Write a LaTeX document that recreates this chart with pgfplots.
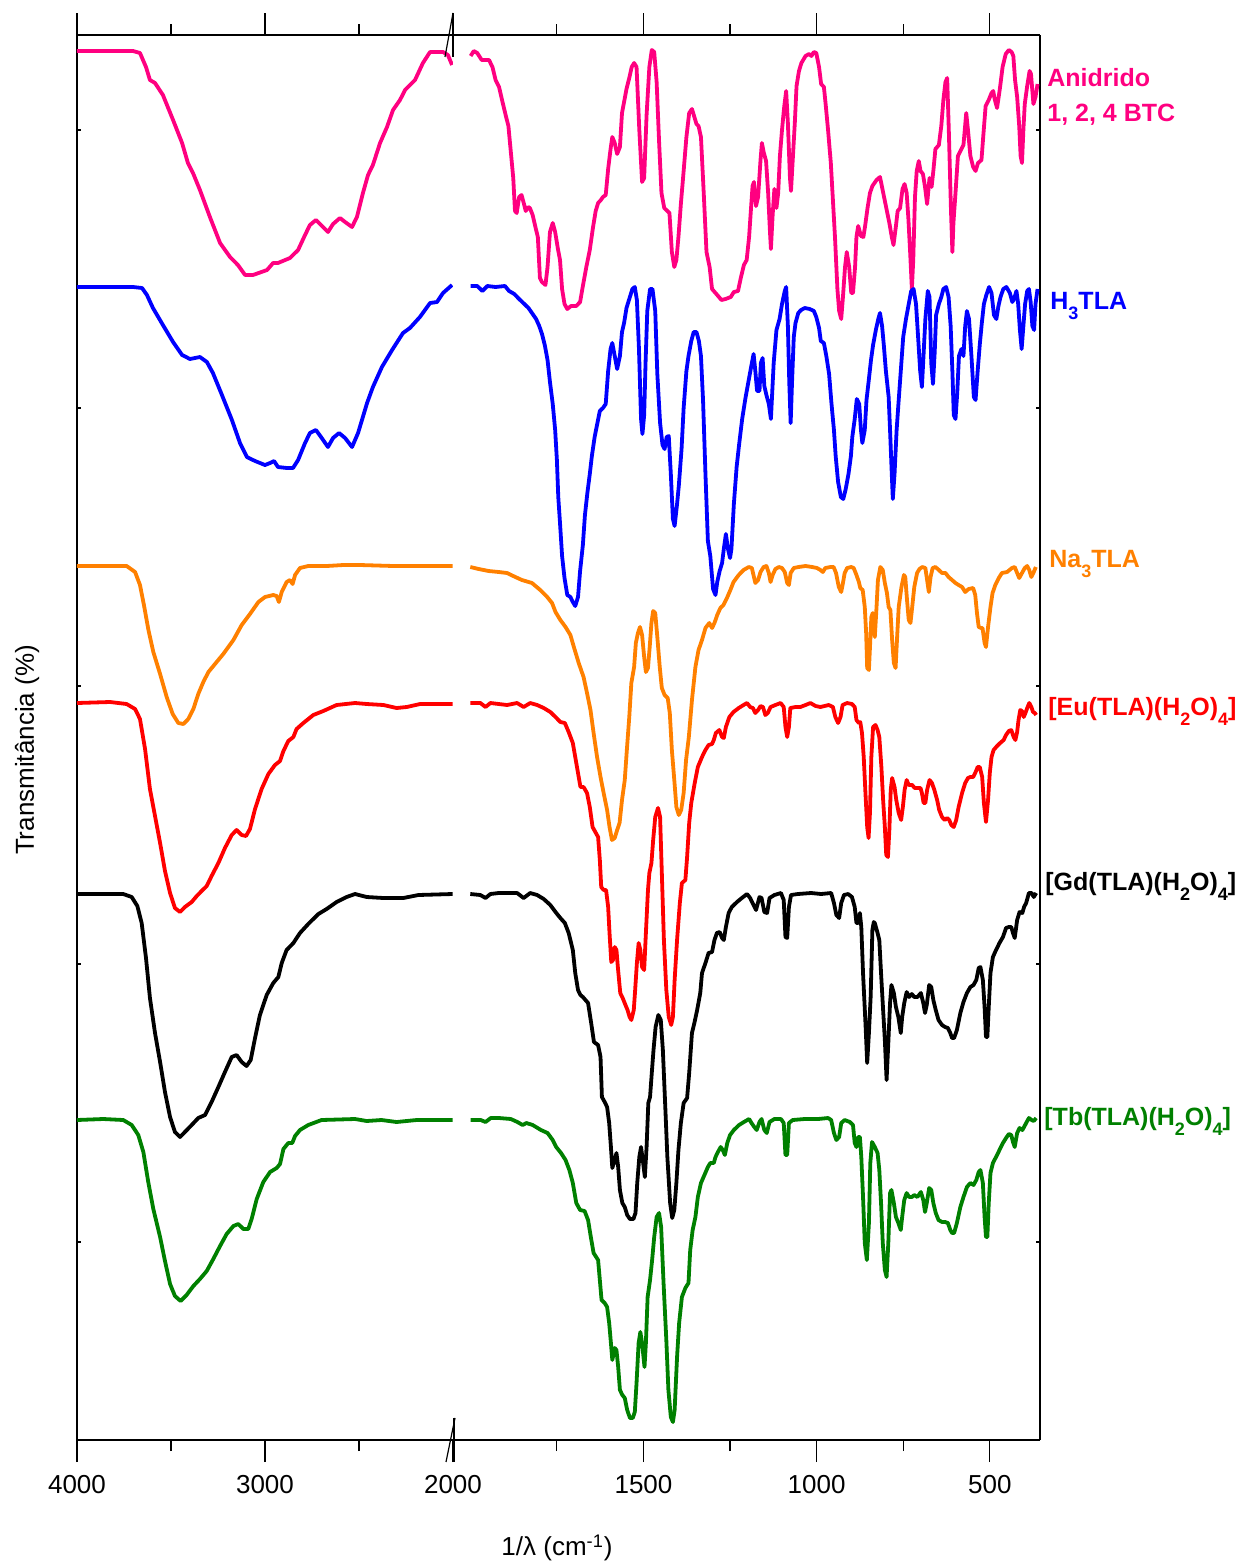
\documentclass[border=0pt]{standalone}
\usepackage{fontspec}
\setmainfont{Liberation Sans}
\usepackage{pgfplots}
\pgfplotsset{compat=1.18}
\definecolor{cpink}{HTML}{FF0080}
\definecolor{cblue}{HTML}{0000FF}
\definecolor{corange}{HTML}{FF8000}
\definecolor{cred}{HTML}{FF0000}
\definecolor{cgreen}{HTML}{008000}
\newcommand{\sbs}[1]{\raisebox{-0.4em}{\fontsize{9}{9}\selectfont #1}}
\pgfplotsset{
  spec/.style={
    scale only axis, anchor=south west, height=702.5pt,
    ymin=35, ymax=1440, y dir=reverse, x dir=reverse,
    separate axis lines, axis x line*=box,
    axis line style={line width=1pt},
    tick align=outside, major tick length=11pt, minor tick length=5.5pt,
    every tick/.style={black, line width=0.6pt},
    xtick pos=both, xticklabel pos=lower,
    ytick=\empty,
    extra y ticks={130,408,686,964,1242}, extra y tick labels={},
    extra y tick style={tick align=inside, major tick length=2pt},
    /pgf/number format/assume math mode=true,
    /pgf/number format/set thousands separator={},
    xticklabel style={font=\fontsize{13}{15}\selectfont, yshift=-3pt},
  },
  sl/.style={line width=1.9pt, line join=round, no markers},
}
\begin{document}
\begin{tikzpicture}
\path[use as bounding box] (0,0) rectangle (619.5pt,782pt);
% ---------------- left segment 4000-2000
\begin{axis}[spec, at={(38.5pt,62pt)}, width=188pt, xmin=2000, xmax=4000,
  xtick={2000,3000,4000}, minor xtick={2500,3500}, axis y line*=left]
\addplot[sl, cpink] coordinates {(4000,51) (3850,51) (3702,51) (3665,53) (3633,67) (3612,80) (3585,83) (3543,95) (3489,120) (3441,143) (3410,163) (3383,173) (3346,190) (3293,217) (3239,243) (3186,257) (3144,265) (3106,275) (3064,275) (2989,270) (2957,263) (2931,263) (2867,258) (2824,250) (2787,235) (2761,225) (2729,220) (2702,225) (2665,232) (2638,224) (2601,218) (2574,222) (2537,227) (2511,217) (2479,193) (2452,175) (2426,165) (2388,143) (2351,127) (2319,110) (2282,100) (2255,90) (2202,80) (2160,63) (2122,52) (2053,52) (2027,55) (2005,65)};
\addplot[sl, cblue] coordinates {(4000,287) (3850,287) (3702,287) (3654,288) (3628,295) (3596,308) (3543,325) (3489,342) (3441,355) (3399,359) (3346,357) (3309,362) (3277,373) (3229,395) (3176,420) (3133,443) (3096,457) (3053,461) (3000,465) (2973,463) (2952,461) (2931,467) (2883,468) (2851,468) (2824,460) (2787,443) (2761,433) (2729,430) (2702,437) (2665,447) (2638,438) (2606,433) (2574,438) (2537,447) (2505,433) (2457,403) (2426,387) (2378,367) (2324,350) (2266,333) (2229,328) (2176,317) (2122,303) (2085,302) (2053,293) (2005,285)};
\addplot[sl, corange] coordinates {(4000,566) (3850,566) (3736,566) (3691,572) (3665,585) (3644,605) (3620,630) (3594,652) (3558,674) (3523,697) (3491,714) (3461,723) (3434,724) (3408,719) (3381,709) (3355,694) (3328,682) (3301,672) (3266,664) (3222,654) (3168,640) (3124,625) (3080,614) (3035,602) (3000,597) (2956,595) (2938,596) (2926,602) (2911,592) (2885,582) (2867,580) (2853,584) (2840,575) (2814,568) (2770,566) (2672,566) (2583,565) (2495,565) (2317,566) (2140,566) (2002,566)};
\addplot[sl, cred] coordinates {(4000,703) (3824,702) (3736,704) (3691,709) (3665,719) (3638,749) (3612,789) (3585,816) (3558,843) (3532,871) (3505,893) (3479,908) (3452,912) (3426,907) (3390,902) (3363,896) (3337,891) (3310,886) (3284,876) (3248,863) (3213,848) (3177,835) (3151,830) (3124,835) (3101,836) (3080,829) (3053,809) (3018,789) (2982,774) (2947,765) (2920,761) (2902,751) (2876,741) (2849,737) (2832,729) (2796,723) (2743,715) (2690,711) (2619,705) (2521,703) (2459,704) (2370,705) (2300,708) (2246,707) (2175,704) (2002,704)};
\addplot[sl, black] coordinates {(4000,894) (3754,894) (3709,897) (3679,906) (3656,923) (3633,958) (3612,998) (3585,1033) (3558,1062) (3532,1092) (3505,1117) (3479,1132) (3452,1137) (3426,1132) (3390,1125) (3355,1118) (3319,1115) (3284,1102) (3248,1087) (3213,1072) (3177,1057) (3151,1055) (3124,1062) (3098,1066) (3076,1060) (3053,1038) (3027,1015) (2991,995) (2956,983) (2929,977) (2911,963) (2885,950) (2849,943) (2814,933) (2770,924) (2716,914) (2672,909) (2619,902) (2566,897) (2521,894) (2459,897) (2370,898) (2264,898) (2184,895) (2002,894)};
\addplot[sl, cgreen] coordinates {(4000,1120) (3860,1119) (3754,1120) (3709,1125) (3674,1135) (3647,1152) (3621,1182) (3594,1209) (3558,1237) (3532,1261) (3505,1284) (3479,1296) (3449,1301) (3417,1295) (3381,1286) (3346,1279) (3310,1271) (3275,1259) (3239,1246) (3204,1234) (3168,1226) (3142,1224) (3115,1229) (3089,1229) (3071,1219) (3044,1199) (3009,1182) (2973,1172) (2938,1168) (2920,1164) (2902,1149) (2876,1143) (2855,1143) (2840,1136) (2814,1130) (2770,1125) (2699,1120) (2521,1119) (2459,1121) (2380,1120) (2300,1122) (2193,1120) (2002,1120)};
\end{axis}
% ---------------- right segment 2050-355
\begin{axis}[spec, at={(226.5pt,62pt)}, width=293.5pt, xmin=355, xmax=2050,
  xtick={500,1000,1500}, minor xtick={750,1250,1750}, axis y line*=right]
\addplot[sl, cpink] coordinates {(1999,56) (1990,51) (1980,53) (1967,60) (1956,60) (1946,60) (1936,67) (1927,80) (1917,87) (1907,102) (1898,115) (1890,126) (1883,152) (1876,178) (1871,211) (1866,213) (1859,197) (1852,195) (1845,204) (1840,211) (1833,207) (1828,208) (1820,215) (1810,230) (1805,237) (1799,278) (1793,282) (1783,285) (1777,267) (1770,232) (1762,223) (1755,232) (1747,249) (1741,260) (1735,289) (1728,304) (1720,309) (1709,306) (1694,306) (1683,302) (1675,286) (1665,267) (1655,250) (1646,228) (1638,211) (1631,203) (1623,200) (1617,197) (1609,195) (1602,169) (1595,149) (1590,137) (1583,143) (1576,154) (1568,147) (1562,113) (1556,102) (1549,89) (1541,78) (1534,67) (1527,63) (1520,67) (1512,130) (1504,182) (1498,178) (1491,115) (1483,67) (1476,50) (1469,52) (1462,82) (1455,141) (1448,193) (1440,208) (1431,211) (1425,213) (1418,252) (1411,267) (1405,260) (1399,237) (1392,204) (1384,171) (1376,137) (1368,113) (1360,109) (1353,117) (1347,124) (1341,126) (1334,137) (1326,193) (1318,252) (1309,267) (1302,289) (1292,293) (1282,297) (1275,300) (1263,299) (1248,297) (1239,292) (1227,291) (1219,278) (1210,265) (1202,260) (1195,237) (1190,211) (1185,186) (1181,182) (1175,206) (1169,197) (1162,160) (1158,143) (1153,152) (1146,161) (1140,193) (1135,230) (1132,249) (1127,215) (1122,189) (1116,208) (1111,193) (1106,156) (1100,130) (1094,108) (1088,91) (1083,123) (1077,178) (1074,191) (1069,160) (1063,123) (1058,86) (1051,71) (1044,63) (1032,56) (1022,54) (1015,56) (1008,52) (1001,53) (993,67) (987,84) (979,87) (974,104) (967,130) (959,163) (953,200) (947,237) (940,289) (935,311) (929,319) (924,297) (918,267) (913,252) (906,267) (900,293) (895,293) (889,267) (885,237) (880,226) (872,236) (865,237) (860,226) (853,208) (846,193) (839,186) (827,180) (817,177) (810,189) (800,206) (790,223) (783,237) (778,245) (771,226) (766,211) (759,208) (752,189) (746,184) (740,193) (735,219) (730,252) (725,289) (721,260) (716,197) (711,171) (705,161) (700,171) (693,174) (687,187) (681,204) (674,178) (668,187) (663,171) (657,149) (647,145) (640,126) (634,100) (628,82) (623,78) (618,134) (612,211) (608,252) (605,223) (599,193) (592,156) (582,149) (576,145) (568,113) (563,130) (556,156) (548,167) (541,171) (534,163) (524,160) (519,137) (512,106) (503,100) (495,93) (490,91) (486,99) (479,108) (471,89) (463,67) (454,54) (445,50) (437,52) (432,56) (427,80) (421,97) (415,126) (411,156) (407,163) (403,130) (399,104) (392,86) (385,71) (381,74) (374,104) (368,97) (362,84)};
\addplot[sl, cblue] coordinates {(1999,286) (1980,286) (1965,291) (1951,286) (1927,287) (1900,286) (1888,291) (1873,294) (1859,299) (1844,304) (1832,308) (1822,313) (1810,319) (1801,326) (1793,334) (1785,345) (1777,360) (1770,382) (1762,404) (1755,430) (1750,460) (1746,497) (1741,523) (1735,556) (1728,578) (1720,595) (1711,597) (1704,602) (1697,606) (1689,597) (1683,571) (1675,545) (1669,515) (1662,493) (1655,474) (1649,456) (1641,437) (1633,423) (1626,411) (1617,408) (1609,404) (1602,371) (1595,349) (1590,343) (1583,356) (1576,369) (1568,356) (1562,332) (1556,323) (1549,308) (1541,299) (1532,289) (1525,287) (1519,300) (1513,349) (1507,419) (1503,434) (1498,415) (1494,363) (1489,311) (1481,289) (1474,289) (1466,311) (1460,374) (1452,423) (1445,445) (1439,449) (1433,437) (1427,436) (1421,474) (1415,519) (1410,526) (1403,504) (1398,486) (1390,449) (1384,408) (1376,371) (1370,356) (1362,341) (1355,332) (1347,332) (1340,341) (1334,356) (1328,400) (1321,474) (1314,541) (1307,556) (1299,589) (1292,595) (1287,582) (1280,571) (1273,563) (1268,549) (1262,534) (1256,549) (1250,558) (1246,549) (1239,504) (1231,467) (1224,445) (1215,419) (1205,397) (1195,378) (1187,363) (1182,354) (1177,371) (1172,391) (1165,391) (1161,363) (1156,358) (1151,386) (1145,395) (1138,404) (1132,419) (1124,363) (1116,330) (1107,319) (1100,304) (1092,291) (1088,287) (1083,326) (1079,382) (1075,423) (1071,382) (1066,337) (1061,323) (1053,313) (1045,310) (1034,308) (1020,309) (1008,311) (1001,317) (993,328) (988,341) (979,343) (972,356) (964,374) (957,404) (950,430) (945,456) (938,482) (930,497) (923,499) (916,489) (908,474) (901,456) (897,437) (890,419) (884,399) (877,404) (872,430) (868,443) (861,430) (856,400) (850,382) (843,360) (837,345) (829,330) (822,319) (817,313) (811,326) (806,345) (800,371) (792,397) (788,430) (783,474) (780,499) (775,474) (769,430) (763,400) (757,371) (750,337) (742,319) (734,304) (727,291) (720,289) (713,304) (707,337) (701,371) (696,387) (692,360) (686,319) (679,291) (674,297) (669,363) (664,384) (659,352) (655,315) (647,304) (640,297) (634,289) (626,287) (619,297) (613,326) (608,371) (604,415) (599,419) (594,393) (589,356) (582,349) (576,356) (571,326) (566,311) (560,319) (553,356) (546,397) (541,400) (535,371) (529,345) (523,323) (517,304) (510,295) (502,287) (495,293) (488,315) (481,319) (475,306) (469,297) (461,289) (452,287) (442,293) (435,302) (430,299) (423,291) (418,304) (413,330) (408,349) (403,326) (398,304) (392,291) (387,289) (382,302) (377,326) (372,330) (368,304) (362,289)};
\addplot[sl, corange] coordinates {(2000,567) (1976,569) (1947,571) (1918,572) (1894,573) (1870,577) (1851,580) (1822,583) (1798,590) (1778,597) (1764,603) (1754,612) (1740,620) (1725,627) (1711,635) (1701,647) (1687,663) (1673,677) (1663,693) (1653,710) (1644,733) (1634,757) (1624,777) (1615,793) (1605,810) (1598,827) (1591,840) (1583,838) (1576,830) (1569,823) (1562,800) (1554,780) (1548,750) (1541,717) (1535,683) (1527,667) (1522,643) (1516,633) (1510,627) (1504,635) (1498,657) (1493,672) (1487,668) (1482,647) (1477,623) (1472,611) (1466,613) (1460,637) (1453,667) (1447,688) (1439,695) (1430,698) (1424,713) (1418,750) (1411,780) (1405,807) (1398,815) (1391,810) (1384,793) (1377,760) (1369,737) (1360,700) (1350,667) (1341,650) (1331,640) (1321,628) (1310,623) (1302,628) (1295,623) (1287,615) (1278,608) (1269,605) (1259,598) (1249,590) (1240,582) (1225,575) (1211,570) (1196,567) (1187,568) (1177,583) (1169,580) (1162,572) (1153,567) (1145,566) (1138,573) (1133,582) (1127,575) (1119,569) (1109,567) (1100,568) (1092,572) (1085,583) (1080,585) (1075,573) (1066,568) (1052,567) (1032,566) (1013,567) (999,568) (989,570) (982,572) (975,568) (960,567) (951,567) (944,573) (936,587) (929,592) (924,583) (919,573) (912,568) (900,567) (893,568) (885,575) (878,582) (874,588) (867,590) (861,607) (857,633) (854,668) (849,670) (845,640) (842,617) (838,613) (835,627) (832,637) (827,607) (823,580) (816,567) (809,570) (803,583) (797,593) (792,607) (787,610) (782,640) (777,663) (772,668) (768,640) (763,607) (755,587) (748,575) (744,577) (739,600) (734,620) (729,623) (724,607) (718,587) (710,573) (703,569) (695,567) (686,568) (681,580) (676,592) (671,577) (665,568) (657,567) (647,570) (638,573) (628,573) (619,577) (609,580) (599,583) (590,585) (580,587) (571,592) (561,589) (548,588) (542,595) (537,613) (532,627) (525,628) (521,628) (515,643) (511,647) (505,627) (498,607) (492,593) (484,585) (474,578) (465,573) (450,572) (436,568) (428,567) (421,573) (415,578) (407,573) (399,568) (392,566) (386,570) (380,577) (373,572) (367,567)};
\addplot[sl, cred] coordinates {(2000,703) (1971,703) (1956,707) (1942,703) (1918,704) (1894,705) (1865,703) (1846,707) (1827,703) (1807,705) (1788,708) (1769,712) (1754,717) (1740,722) (1727,723) (1716,732) (1704,743) (1697,757) (1689,773) (1682,787) (1673,787) (1663,793) (1655,807) (1647,827) (1639,832) (1631,837) (1626,860) (1622,887) (1615,890) (1608,890) (1602,907) (1598,933) (1593,962) (1588,960) (1583,947) (1578,950) (1574,967) (1567,993) (1560,998) (1552,1005) (1546,1010) (1540,1017) (1535,1020) (1528,1010) (1524,990) (1519,963) (1514,943) (1509,950) (1504,967) (1498,970) (1493,933) (1487,890) (1483,873) (1477,863) (1472,840) (1466,817) (1458,808) (1452,817) (1447,873) (1441,940) (1434,990) (1427,1017) (1420,1025) (1415,1017) (1410,980) (1403,940) (1395,903) (1389,883) (1379,880) (1374,857) (1368,823) (1362,803) (1352,783) (1343,767) (1331,757) (1321,750) (1312,745) (1302,744) (1297,740) (1291,733) (1281,730) (1273,737) (1268,738) (1262,727) (1252,717) (1240,712) (1225,708) (1211,705) (1201,703) (1192,707) (1184,708) (1177,713) (1169,710) (1162,706) (1155,707) (1148,715) (1141,713) (1133,707) (1119,705) (1104,703) (1095,707) (1090,727) (1085,737) (1080,727) (1076,708) (1061,707) (1047,707) (1032,705) (1018,703) (1003,706) (989,707) (965,705) (953,707) (946,717) (938,723) (931,717) (925,705) (912,703) (898,704) (890,707) (885,720) (878,723) (874,722) (869,733) (864,757) (859,793) (854,827) (850,838) (846,813) (842,757) (837,727) (830,725) (824,730) (819,737) (813,767) (808,800) (803,827) (799,855) (794,857) (790,830) (786,790) (782,778) (775,787) (770,800) (763,813) (756,820) (751,807) (746,790) (740,780) (734,785) (724,785) (717,788) (708,788) (700,788) (696,793) (691,803) (686,803) (681,790) (674,780) (667,783) (660,790) (652,800) (646,810) (638,817) (630,820) (623,818) (617,820) (611,825) (604,827) (597,820) (590,807) (580,793) (571,783) (563,778) (556,777) (548,777) (542,773) (535,767) (529,767) (522,777) (517,803) (511,822) (505,800) (500,773) (495,757) (489,750) (479,746) (470,743) (460,740) (453,735) (445,731) (438,730) (431,737) (426,740) (421,732) (417,720) (412,710) (407,711) (402,717) (397,713) (392,708) (386,703) (380,707) (375,712) (370,713) (366,715)};
\addplot[sl, black] coordinates {(2000,894) (1971,895) (1956,898) (1942,894) (1918,893) (1894,893) (1865,893) (1846,898) (1827,893) (1807,895) (1788,899) (1769,905) (1754,912) (1740,918) (1727,923) (1716,933) (1704,950) (1697,973) (1689,990) (1682,995) (1675,997) (1660,1003) (1651,1023) (1643,1042) (1631,1045) (1624,1057) (1620,1097) (1612,1102) (1605,1107) (1599,1123) (1594,1147) (1590,1168) (1583,1160) (1578,1153) (1573,1167) (1568,1190) (1561,1203) (1554,1207) (1547,1215) (1539,1219) (1529,1219) (1523,1213) (1518,1183) (1512,1157) (1507,1147) (1502,1160) (1496,1177) (1491,1147) (1486,1103) (1481,1097) (1476,1073) (1471,1050) (1465,1027) (1457,1015) (1450,1020) (1444,1050) (1437,1107) (1431,1157) (1423,1203) (1417,1218) (1411,1210) (1405,1183) (1399,1150) (1392,1123) (1384,1103) (1374,1098) (1368,1073) (1360,1033) (1353,1023) (1345,1010) (1336,993) (1331,973) (1321,963) (1312,953) (1302,952) (1295,940) (1288,933) (1280,932) (1273,938) (1268,940) (1262,927) (1254,913) (1245,907) (1230,902) (1216,898) (1201,894) (1192,898) (1182,905) (1175,910) (1165,897) (1159,898) (1151,912) (1143,913) (1136,898) (1122,895) (1103,893) (1095,900) (1090,937) (1085,938) (1080,907) (1074,895) (1054,894) (1016,893) (987,894) (958,893) (950,903) (943,915) (935,918) (929,903) (921,895) (909,894) (898,897) (890,907) (885,923) (880,923) (875,913) (871,927) (866,973) (859,1023) (854,1063) (849,1033) (844,997) (839,930) (835,922) (832,923) (824,933) (819,940) (814,973) (808,1010) (803,1040) (798,1080) (793,1043) (788,1003) (784,985) (777,993) (771,1007) (764,1017) (757,1033) (753,1017) (747,1003) (740,992) (733,997) (725,994) (718,997) (709,997) (699,993) (692,1003) (687,1013) (682,1005) (675,985) (669,987) (663,1000) (656,1010) (648,1020) (638,1025) (629,1027) (621,1028) (614,1033) (609,1038) (603,1038) (595,1030) (585,1013) (576,1002) (566,993) (556,987) (547,985) (539,980) (532,968) (527,967) (520,980) (515,1007) (511,1037) (507,1037) (503,1007) (498,973) (491,957) (482,950) (472,943) (462,937) (453,928) (445,927) (438,927) (433,933) (428,938) (421,920) (414,912) (406,913) (401,907) (395,903) (387,893) (379,893) (373,897) (366,893)};
\addplot[sl, cgreen] coordinates {(1999,1120) (1970,1120) (1956,1122) (1941,1118) (1917,1118) (1883,1119) (1864,1122) (1849,1125) (1838,1123) (1820,1125) (1796,1130) (1777,1133) (1762,1140) (1752,1147) (1738,1153) (1725,1160) (1714,1170) (1704,1183) (1694,1203) (1683,1210) (1670,1211) (1660,1220) (1652,1237) (1644,1253) (1631,1260) (1626,1280) (1621,1300) (1612,1303) (1605,1307) (1599,1323) (1594,1343) (1590,1360) (1583,1348) (1578,1350) (1573,1367) (1568,1390) (1561,1395) (1554,1398) (1547,1410) (1539,1418) (1531,1418) (1525,1412) (1520,1383) (1514,1343) (1509,1332) (1504,1343) (1497,1367) (1493,1343) (1488,1297) (1481,1280) (1475,1260) (1469,1237) (1462,1217) (1455,1213) (1449,1227) (1442,1283) (1434,1340) (1428,1390) (1421,1417) (1415,1422) (1410,1410) (1403,1357) (1397,1323) (1389,1297) (1379,1288) (1370,1283) (1365,1250) (1358,1230) (1350,1217) (1343,1197) (1334,1183) (1324,1175) (1314,1167) (1307,1163) (1297,1163) (1292,1157) (1285,1152) (1277,1147) (1271,1150) (1265,1155) (1258,1143) (1250,1135) (1239,1130) (1224,1125) (1210,1122) (1195,1119) (1188,1123) (1180,1127) (1173,1130) (1165,1122) (1159,1119) (1151,1130) (1144,1133) (1136,1122) (1122,1119) (1103,1119) (1095,1123) (1090,1155) (1085,1155) (1080,1123) (1069,1120) (1035,1119) (996,1119) (967,1118) (958,1120) (950,1133) (943,1140) (935,1137) (929,1123) (919,1120) (904,1122) (895,1125) (890,1143) (885,1147) (880,1137) (875,1137) (871,1157) (866,1197) (861,1243) (855,1260) (849,1223) (845,1163) (840,1142) (832,1147) (824,1153) (819,1170) (814,1203) (809,1243) (803,1270) (798,1277) (793,1243) (788,1193) (784,1190) (777,1203) (771,1217) (764,1223) (757,1230) (753,1217) (747,1200) (740,1193) (733,1197) (725,1197) (718,1195) (709,1197) (699,1192) (692,1200) (687,1212) (682,1203) (675,1188) (669,1190) (663,1203) (656,1213) (648,1220) (638,1222) (629,1222) (621,1223) (614,1230) (609,1233) (603,1233) (595,1223) (585,1207) (576,1197) (566,1187) (556,1183) (547,1185) (539,1180) (532,1172) (527,1170) (520,1183) (515,1217) (511,1237) (507,1237) (503,1203) (498,1173) (491,1163) (482,1157) (472,1150) (462,1143) (453,1138) (445,1134) (438,1135) (433,1142) (428,1147) (421,1133) (414,1128) (406,1130) (401,1127) (395,1123) (387,1118) (379,1120) (373,1121) (366,1118)};
\end{axis}
% axis break marks
\draw[line width=0.6pt] (226.5pt,775.5pt) -- (226.5pt,753.5pt);
\draw[line width=0.6pt] (222.5pt,753.5pt) -- (226.5pt,775.5pt);
\draw[line width=0.6pt] (227pt,73pt) -- (227pt,51pt);
\draw[line width=0.6pt] (223pt,51pt) -- (227.5pt,73pt);
% labels
\begin{scope}[every node/.style={inner sep=0pt, anchor=base west, font=\fontsize{12.5}{14}\selectfont\bfseries}]
\node[text=cpink] at (523.5pt,738.5pt) {Anidrido};
\node[text=cpink] at (523.5pt,721pt) {1, 2, 4 BTC};
\node[text=cblue] at (525pt,627pt) {H\sbs{3}TLA};
\node[text=corange] at (524.5pt,498pt) {Na\sbs{3}TLA};
\node[text=cred] at (524pt,424pt) {[Eu(TLA)(H\sbs{2}O)\sbs{4}]};
\node[text=black] at (522.5pt,336.5pt) {[Gd(TLA)(H\sbs{2}O)\sbs{4}]};
\node[text=cgreen] at (522pt,219pt) {[Tb(TLA)(H\sbs{2}O)\sbs{4}]};
\end{scope}
\node[rotate=90, font=\fontsize{13}{15}\selectfont] at (13.5pt,407pt) {Transmitância (\%)};
\node[font=\fontsize{13}{15}\selectfont] at (278.5pt,8pt) {1/λ (cm\textsuperscript{-1})};
\end{tikzpicture}
\end{document}
